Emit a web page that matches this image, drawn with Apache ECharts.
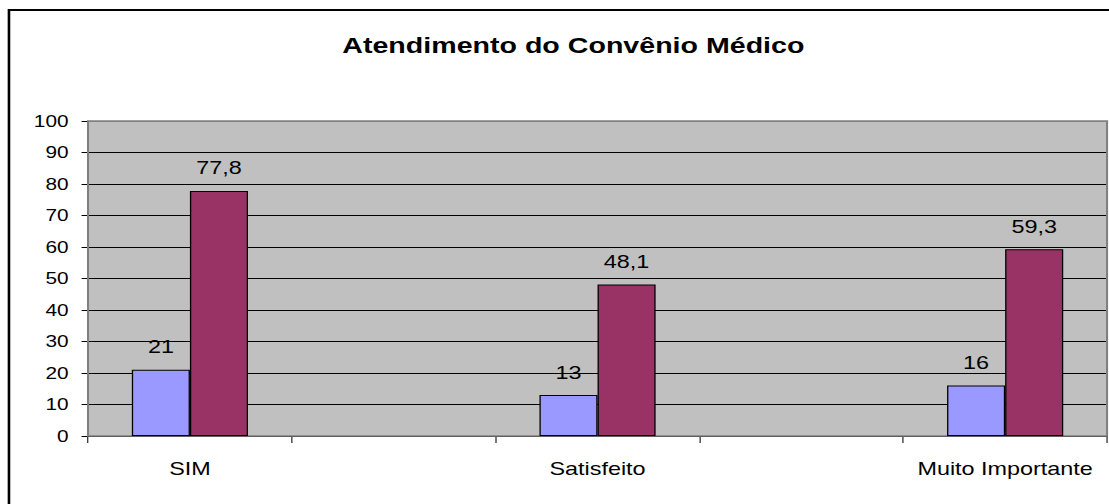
<!DOCTYPE html>
<html>
<head>
<meta charset="utf-8">
<style>
  html, body { margin: 0; padding: 0; background: #fff; overflow: hidden; }
  /* the chart is laid out narrower and widened horizontally, giving the wide lettering */
  #wrap { width: 1109px; height: 504px; overflow: hidden; }
  #chart { width: 853px; height: 504px; transform: scaleX(1.30012); transform-origin: 0 0; }
</style>
<script src="https://cdn.jsdelivr.net/npm/echarts@6/dist/echarts.min.js"></script>
</head>
<body>
<div id="wrap"><div id="chart"></div></div>
<script>
// Categories (blank slots keep the spacing between the groups)
const categories = ['SIM', '', 'Satisfeito', '', 'Muito Importante'];
// First series (lavender bars)
const seriesA = [21, null, 13, null, 16];
// Second series (plum bars)
const seriesB = [77.8, null, 48.1, null, 59.3];
// Value axis
const yMin = 0, yMax = 100, yStep = 10;

const fontFamily = 'Liberation Sans, Arial, sans-serif';
const fmt = v => String(v).replace('.', ',');

const chart = echarts.init(document.getElementById('chart'), null, { renderer: 'svg' });

// plot rectangle in layout coordinates
const plot = { left: 67.7, top: 121, right: 1.5, bottom: 68 };
const W = 853, H = 504;

// gridline colours: black inside, grey on the top edge (plot border)
const gridColors = [];
for (let v = yMin; v <= yMax; v += yStep) gridColors.push(v === yMax ? '#808080' : '#000');

const labelStyle = {
  show: true,
  position: 'top',
  distance: 14,
  fontFamily,
  fontSize: 18,
  color: '#000',
  formatter: p => fmt(p.value)
};

chart.setOption({
  animation: false,
  backgroundColor: '#fff',
  graphic: [
    {
      type: 'rect',
      shape: { x: 6.9, y: 10, width: 1000, height: 600 },
      style: { fill: 'none', stroke: '#000', lineWidth: 2 },
      silent: true,
      z: 0
    },
    {
      type: 'rect',
      shape: { x: plot.left, y: plot.top, width: W - plot.left - plot.right, height: H - plot.top - plot.bottom },
      style: { fill: 'none', stroke: '#808080', lineWidth: 1.6 },
      silent: true,
      z: 1
    }
  ],
  title: {
    text: 'Atendimento do Convênio Médico',
    left: 436,
    top: 29,
    textAlign: 'center',
    textStyle: { fontFamily, fontSize: 22, fontWeight: 'bold', color: '#000' }
  },
  grid: {
    left: plot.left, right: plot.right, top: plot.top, bottom: plot.bottom,
    show: true,
    backgroundColor: '#C0C0C0',
    borderWidth: 0
  },
  xAxis: {
    type: 'category',
    data: categories,
    axisLine: { show: true, lineStyle: { color: '#000', width: 1 } },
    axisTick: { show: true, length: 7, lineStyle: { color: '#000', width: 0.8 } },
    axisLabel: { fontFamily, fontSize: 18, color: '#000', margin: 24, interval: 0 },
    splitLine: { show: false }
  },
  yAxis: {
    type: 'value',
    min: yMin, max: yMax, interval: yStep,
    axisLine: { show: true, lineStyle: { color: '#000', width: 1 } },
    axisTick: { show: true, length: 5, lineStyle: { color: '#000' } },
    axisLabel: { fontFamily, fontSize: 16, color: '#000', margin: 15 },
    splitLine: { show: true, lineStyle: { color: gridColors, width: 1 } }
  },
  series: [
    {
      type: 'bar',
      data: seriesA,
      barGap: '0%',
      barCategoryGap: '43%',
      itemStyle: { color: '#9999FF', borderColor: '#000', borderWidth: 1 },
      label: labelStyle,
      z: 3
    },
    {
      type: 'bar',
      data: seriesB,
      barGap: '0%',
      barCategoryGap: '43%',
      itemStyle: { color: '#993366', borderColor: '#000', borderWidth: 1 },
      label: labelStyle,
      z: 3
    }
  ]
});
</script>
</body>
</html>
